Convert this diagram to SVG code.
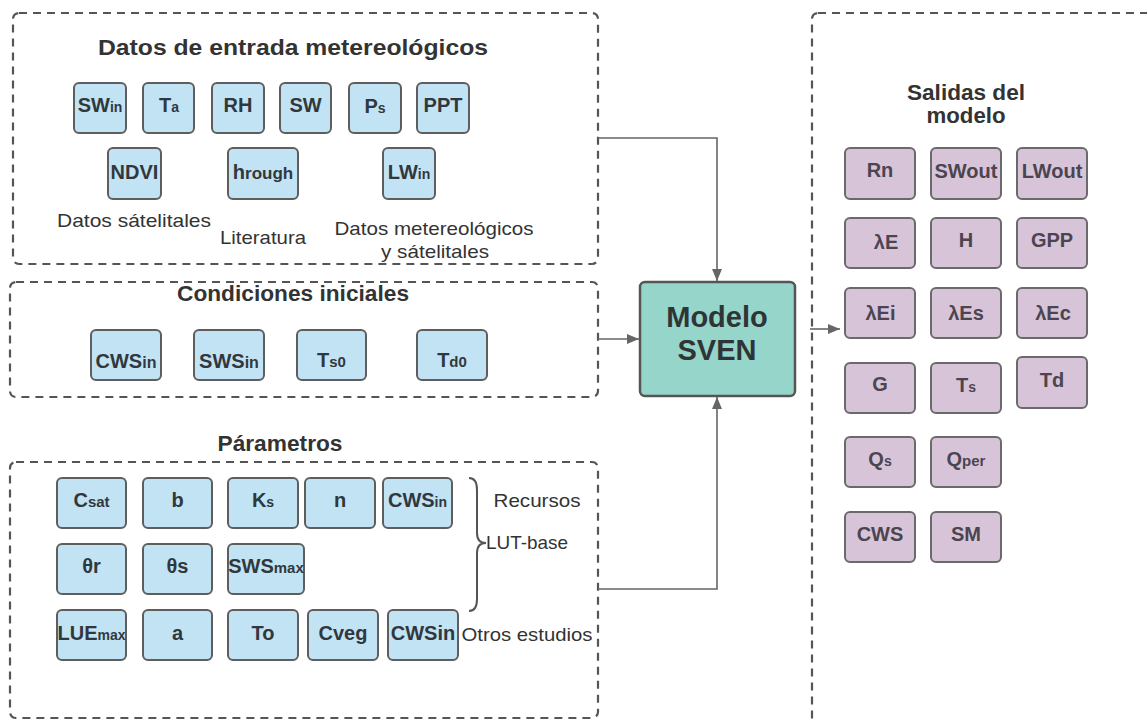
<svg xmlns="http://www.w3.org/2000/svg" width="1147" height="721" viewBox="0 0 1147 721">
<style>
.bg{fill:#ffffff}
.dash{fill:none;stroke:#555;stroke-width:2.2;stroke-dasharray:8 6}
.in rect{fill:#c2e3f4;stroke:#5e5e5e;stroke-width:2}
.out rect{fill:#d8c4d8;stroke:#6a6a6a;stroke-width:2}
.nt{font-family:"Liberation Sans",Arial,sans-serif;font-weight:bold;text-anchor:middle;fill:#31383d;font-size:20px}
.out .nt{fill:#4b4550}
.sub{font-size:14px}
.title{font-family:"Liberation Sans",Arial,sans-serif;font-weight:bold;font-size:22px;fill:#333;text-anchor:middle}
.lbl{font-family:"Liberation Sans",Arial,sans-serif;font-size:19px;fill:#333;text-anchor:middle}
.conn{fill:none;stroke:#666;stroke-width:1.6}
</style>
<defs>
<marker id="ah" markerUnits="userSpaceOnUse" markerWidth="12" markerHeight="10" refX="12" refY="5" orient="auto">
<path d="M0,0 L12,5 L0,10 z" fill="#666"/>
</marker>
</defs>
<rect class="bg" x="0" y="0" width="1147" height="721"/>

<g id="group-entrada">
<rect class="dash" x="13" y="13" width="585" height="251" rx="6"/>
<text class="title" x="293" y="55" textLength="390" lengthAdjust="spacingAndGlyphs">Datos de entrada metereológicos</text>
<text class="lbl" x="134" y="227" textLength="154" lengthAdjust="spacingAndGlyphs">Datos sátelitales</text>
<text class="lbl" x="263" y="244" textLength="86" lengthAdjust="spacingAndGlyphs">Literatura</text>
<text class="lbl" x="434" y="235" textLength="199" lengthAdjust="spacingAndGlyphs">Datos metereológicos</text>
<text class="lbl" x="435" y="258" textLength="108" lengthAdjust="spacingAndGlyphs">y sátelitales</text>
</g>
<g id="node-swin" class="in"><rect x="74" y="83" width="52" height="50" rx="5"/><text class="nt" x="100" y="112">SW<tspan class="sub" font-size="15">in</tspan></text></g>
<g id="node-ta" class="in"><rect x="143" y="83" width="51" height="50" rx="5"/><text class="nt" x="169" y="112" font-size="21">T<tspan class="sub">a</tspan></text></g>
<g id="node-rh" class="in"><rect x="212" y="83" width="52" height="50" rx="5"/><text class="nt" x="238" y="112">RH</text></g>
<g id="node-sw" class="in"><rect x="280" y="83" width="51" height="50" rx="5"/><text class="nt" x="305.5" y="112">SW</text></g>
<g id="node-ps" class="in"><rect x="349" y="83" width="52" height="50" rx="5"/><text class="nt" x="375" y="113" font-size="24">P<tspan class="sub" font-size="15">s</tspan></text></g>
<g id="node-ppt" class="in"><rect x="417" y="83" width="52" height="50" rx="5"/><text class="nt" x="443" y="112">PPT</text></g>
<g id="node-ndvi" class="in"><rect x="108" y="148" width="53" height="51" rx="5"/><text class="nt" x="134.5" y="179">NDVI</text></g>
<g id="node-hrough" class="in"><rect x="228" y="148" width="70" height="51" rx="5"/><text class="nt" x="263" y="179">h<tspan font-size="17">rough</tspan></text></g>
<g id="node-lwin" class="in"><rect x="383" y="148" width="52" height="51" rx="5"/><text class="nt" x="409" y="179">LW<tspan class="sub" font-size="15">in</tspan></text></g>

<g id="group-condiciones">
<rect class="dash" x="10" y="282" width="588" height="115" rx="6"/>
<text class="title" x="293" y="301" textLength="232" lengthAdjust="spacingAndGlyphs">Condiciones iniciales</text>
</g>
<g id="node-cwsin-c" class="in"><rect x="91" y="330" width="70" height="50" rx="5"/><text class="nt" x="126" y="368" font-size="21">CWS<tspan font-size="16">in</tspan></text></g>
<g id="node-swsin" class="in"><rect x="194" y="330" width="70" height="50" rx="5"/><text class="nt" x="229" y="368">SWS<tspan font-size="16">in</tspan></text></g>
<g id="node-ts0" class="in"><rect x="297" y="330" width="69" height="50" rx="5"/><text class="nt" x="331.5" y="367" font-size="21">T<tspan font-size="15">s0</tspan></text></g>
<g id="node-td0" class="in"><rect x="417" y="330" width="70" height="50" rx="5"/><text class="nt" x="452" y="367" font-size="21">T<tspan font-size="15">d0</tspan></text></g>

<g id="group-parametros">
<text class="title" x="280" y="451" textLength="125" lengthAdjust="spacingAndGlyphs">Párametros</text>
<rect class="dash" x="10" y="462" width="588" height="256" rx="6"/>
<path d="M469,478 Q477,478 477,490 L477,533 Q477,543 486,543 Q477,543 477,553 L477,599 Q477,611 469,611" fill="none" stroke="#555" stroke-width="2"/>
<text class="lbl" x="537" y="507" textLength="87" lengthAdjust="spacingAndGlyphs">Recursos</text>
<text class="lbl" x="527" y="549" textLength="82" lengthAdjust="spacingAndGlyphs">LUT-base</text>
<text class="lbl" x="527" y="641" textLength="131" lengthAdjust="spacingAndGlyphs">Otros estudios</text>
</g>
<g id="node-csat" class="in"><rect x="57" y="478" width="69" height="50" rx="5"/><text class="nt" x="91.5" y="507">C<tspan font-size="15">sat</tspan></text></g>
<g id="node-b" class="in"><rect x="143" y="478" width="69" height="50" rx="5"/><text class="nt" x="177.5" y="507">b</text></g>
<g id="node-ks" class="in"><rect x="228" y="478" width="70" height="50" rx="5"/><text class="nt" x="263" y="507">K<tspan class="sub">s</tspan></text></g>
<g id="node-n" class="in"><rect x="305" y="478" width="70" height="50" rx="5"/><text class="nt" x="340" y="507">n</text></g>
<g id="node-cwsin-p" class="in"><rect x="383" y="478" width="69" height="50" rx="5"/><text class="nt" x="417.5" y="507" font-size="21">CWS<tspan class="sub">in</tspan></text></g>
<g id="node-thetar" class="in"><rect x="57" y="544" width="69" height="50" rx="5"/><text class="nt" x="91.5" y="573" font-size="18">θr</text></g>
<g id="node-thetas" class="in"><rect x="143" y="544" width="69" height="50" rx="5"/><text class="nt" x="177.5" y="573" font-size="18">θs</text></g>
<g id="node-swsmax" class="in"><rect x="228" y="544" width="76" height="50" rx="5"/><text class="nt" x="266" y="573">SWS<tspan font-size="15">max</tspan></text></g>
<g id="node-luemax" class="in"><rect x="57" y="610" width="69" height="50" rx="5"/><text class="nt" x="91.5" y="640">LUE<tspan class="sub">max</tspan></text></g>
<g id="node-a" class="in"><rect x="143" y="610" width="69" height="50" rx="5"/><text class="nt" x="177.5" y="640">a</text></g>
<g id="node-to" class="in"><rect x="228" y="610" width="70" height="50" rx="5"/><text class="nt" x="263" y="640">To</text></g>
<g id="node-cveg" class="in"><rect x="308" y="610" width="70" height="50" rx="5"/><text class="nt" x="343" y="640">Cveg</text></g>
<g id="node-cwsin-o" class="in"><rect x="388" y="610" width="70" height="50" rx="5"/><text class="nt" x="423" y="640" font-size="21">CWSin</text></g>

<g id="node-modelo">
<rect x="640" y="282" width="155" height="114" rx="5" fill="#95d5ca" stroke="#555" stroke-width="2.5"/>
<text x="717" y="327" font-family="Liberation Sans, Arial, sans-serif" font-weight="bold" font-size="29" fill="#2f3436" text-anchor="middle">Modelo</text>
<text x="717" y="360" font-family="Liberation Sans, Arial, sans-serif" font-weight="bold" font-size="29" fill="#2f3436" text-anchor="middle">SVEN</text>
</g>

<g id="group-salidas">
<rect class="dash" x="812" y="13" width="400" height="800" rx="6"/>
<text class="title" x="966" y="100" textLength="118" lengthAdjust="spacingAndGlyphs" fill="#444">Salidas del</text>
<text class="title" x="966" y="123" textLength="79" lengthAdjust="spacingAndGlyphs" fill="#444">modelo</text>
</g>
<g id="node-rn" class="out"><rect x="845" y="148" width="70" height="51" rx="5"/><text class="nt" x="880" y="177" font-size="19">Rn</text></g>
<g id="node-swout" class="out"><rect x="931" y="148" width="70" height="51" rx="5"/><text class="nt" x="966" y="178" font-size="21">SWout</text></g>
<g id="node-lwout" class="out"><rect x="1017" y="148" width="70" height="51" rx="5"/><text class="nt" x="1052" y="178" font-size="20">LWout</text></g>
<g id="node-le" class="out"><rect x="845" y="218" width="70" height="50" rx="5"/><text class="nt" x="886" y="249" font-size="19">λE</text></g>
<g id="node-h" class="out"><rect x="931" y="218" width="70" height="50" rx="5"/><text class="nt" x="966" y="247" font-size="19">H</text></g>
<g id="node-gpp" class="out"><rect x="1017" y="218" width="70" height="50" rx="5"/><text class="nt" x="1052" y="247" font-size="19">GPP</text></g>
<g id="node-lei" class="out"><rect x="845" y="288" width="70" height="50" rx="5"/><text class="nt" x="880.5" y="320" font-size="20">λEi</text></g>
<g id="node-les" class="out"><rect x="931" y="288" width="70" height="50" rx="5"/><text class="nt" x="966" y="320" font-size="20">λEs</text></g>
<g id="node-lec" class="out"><rect x="1017" y="288" width="70" height="50" rx="5"/><text class="nt" x="1053" y="320" font-size="20">λEc</text></g>
<g id="node-g" class="out"><rect x="845" y="363" width="70" height="50" rx="5"/><text class="nt" x="880" y="391" font-size="19">G</text></g>
<g id="node-ts" class="out"><rect x="931" y="363" width="70" height="50" rx="5"/><text class="nt" x="966" y="392" font-size="19">T<tspan class="sub">s</tspan></text></g>
<g id="node-td" class="out"><rect x="1017" y="357" width="70" height="51" rx="5"/><text class="nt" x="1052" y="387" font-size="20">Td</text></g>
<g id="node-qs" class="out"><rect x="845" y="437" width="70" height="50" rx="5"/><text class="nt" x="880" y="466" font-size="19">Q<tspan class="sub">s</tspan></text></g>
<g id="node-qper" class="out"><rect x="931" y="437" width="70" height="50" rx="5"/><text class="nt" x="966" y="466" font-size="19">Q<tspan font-size="15">per</tspan></text></g>
<g id="node-cws" class="out"><rect x="845" y="512" width="70" height="50" rx="5"/><text class="nt" x="880" y="541" font-size="20">CWS</text></g>
<g id="node-sm" class="out"><rect x="931" y="512" width="70" height="50" rx="5"/><text class="nt" x="966" y="541" font-size="20">SM</text></g>

<g id="connectors">
<path class="conn" d="M598,138 H717 V281" marker-end="url(#ah)"/>
<path class="conn" d="M598,339 H639" marker-end="url(#ah)"/>
<path class="conn" d="M598,589 H717 V397" marker-end="url(#ah)"/>
<path class="conn" d="M810,329 H840" marker-end="url(#ah)"/>
</g>
</svg>
